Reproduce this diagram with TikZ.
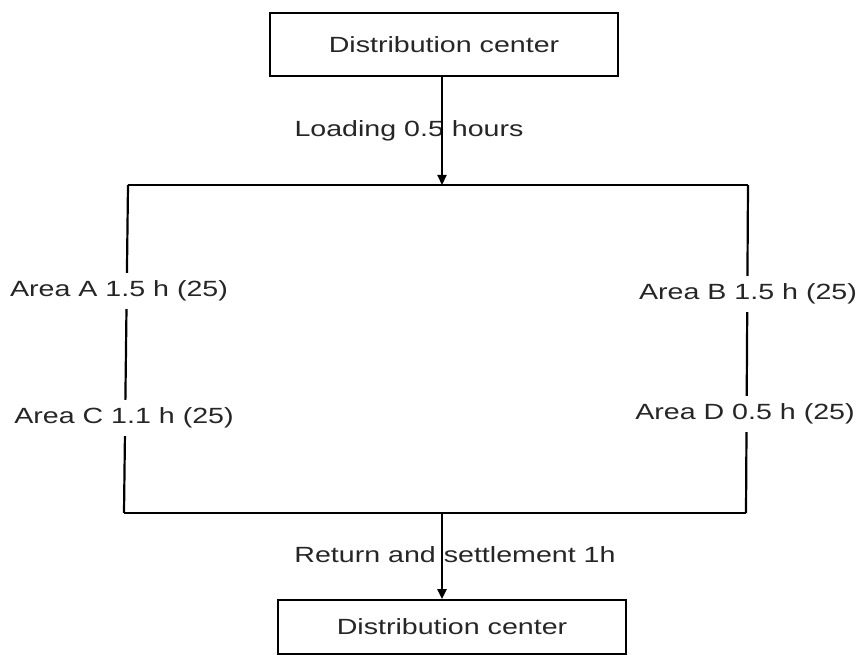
\documentclass[tikz,border=0pt]{standalone}
\usepackage{fontspec}
\usepackage{graphicx}
\setmainfont{Liberation Sans}
\usetikzlibrary{arrows.meta}
\newcommand{\stx}[1]{\scalebox{1.3}[1]{#1}}
\tikzset{
  boxnode/.style={draw, line width=1.8pt, inner sep=0pt, font=\fontsize{22pt}{26pt}\selectfont, text=black!85},
  lab/.style={inner sep=2pt, font=\fontsize{22pt}{26pt}\selectfont, text=black!85},
  gaplab/.style={lab, fill=white, inner xsep=2pt, inner ysep=8pt},
  edge/.style={line width=2.2pt},
  arr/.style={edge, -{Triangle[length=10pt,width=9pt]}}
}
\begin{document}
\begin{tikzpicture}[x=1pt,y=-1pt]
\useasboundingbox (0,0) rectangle (860,655);
\fill[white] (0,0) rectangle (860,655);
\node[boxnode, minimum width=348pt, minimum height=63pt] (top) at (444,44.5) {\stx{Distribution center}};
\node[boxnode, minimum width=348pt, minimum height=54pt] (bot) at (452,627) {\stx{Distribution center}};
\coordinate (TL) at (128,185);
\coordinate (TR) at (748,185);
\coordinate (BL) at (124,513);
\coordinate (BR) at (746,513);
\coordinate (T) at (442,185);
\coordinate (B) at (442,513);
\draw[edge] (TL) -- (TR);
\draw[edge] (BL) -- (BR);
\draw[edge] (TL) -- (BL);
\draw[edge] (TR) -- (BR);
\node[lab] (load) at (409,131) {\stx{Loading 0.5 hours}};
\node[lab] (ret) at (455,555) {\stx{Return and settlement 1h}};
\draw[arr] (T |- top.south) -- (T);
\draw[arr] (B) -- (B |- bot.north);
\node[gaplab] (aA) at (119,291) {\stx{Area A 1.5 h (25)}};
\node[gaplab] (aC) at (124,418) {\stx{Area C 1.1 h (25)}};
\node[gaplab] (aB) at (748,294) {\stx{Area B 1.5 h (25)}};
\node[gaplab] (aD) at (745,414) {\stx{Area D 0.5 h (25)}};
\end{tikzpicture}
\end{document}
